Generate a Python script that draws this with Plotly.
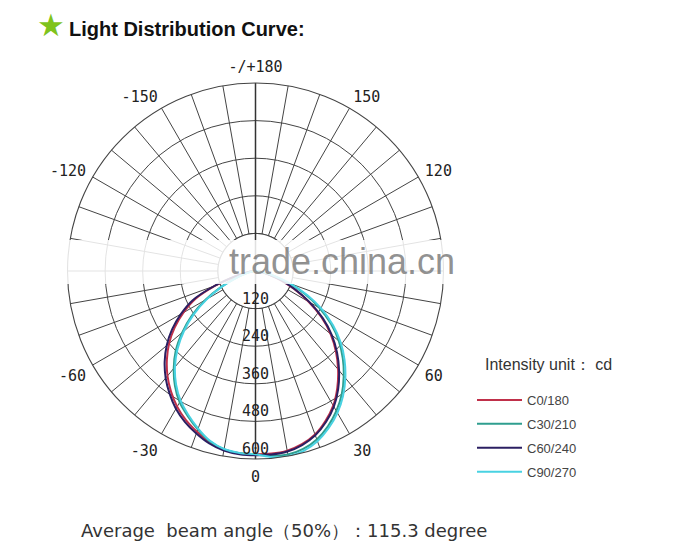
import plotly.graph_objects as go

W, H = 686, 551
OFF = 8  # page body margin in the browser

# ---------------- data ----------------
ANGLES = [0, 5, 10, 15, 20, 25, 30, 35, 40, 45, 50, 55, 60, 65, 70, 75, 80, 85, 90]

# intensity (cd), positive-angle half-plane and negative-angle half-plane
C0   = [585, 585, 582, 572, 555, 528, 496, 455, 410, 363, 313, 257, 195, 136, 85, 44, 19, 7, 0]
C180 = [585, 584, 578, 566, 546, 525, 500, 470, 437, 400, 360, 315, 265, 212, 135, 65, 28, 9, 0]
C30  = [588, 592, 595, 588, 572, 547, 516, 480, 438, 394, 347, 294, 236, 174, 112, 58, 24, 8, 0]
C210 = [586, 584, 578, 563, 538, 511, 484, 448, 406, 360, 305, 248, 184, 122, 70, 34, 15, 5, 0]
C60  = [588, 588, 585, 575, 558, 532, 500, 460, 415, 368, 318, 262, 200, 140, 88, 46, 20, 7, 0]
C240 = [588, 587, 582, 570, 552, 532, 508, 478, 446, 410, 370, 325, 275, 222, 140, 70, 30, 10, 0]
C90  = [590, 596, 600, 594, 578, 553, 523, 487, 446, 402, 355, 302, 245, 182, 120, 62, 26, 9, 0]
C270 = [585, 583, 577, 561, 535, 507, 478, 442, 400, 352, 298, 240, 178, 118, 68, 33, 14, 5, 0]

SERIES_NAMES = ["C0/180", "C30/210", "C60/240", "C90/270"]
SERIES_POS = [C0, C30, C60, C90]
SERIES_NEG = [C180, C210, C240, C270]
SERIES_COLORS = ["#c0304a", "#2f9e8f", "#2b1f62", "#48d2e2"]

RADIAL_TICKS = [120, 240, 360, 480, 600]
ANGLE_LABELS = {0: "0", 30: "30", 60: "60", 120: "120", 150: "150", 180: "-/+180",
                210: "-150", 240: "-120", 300: "-60", 330: "-30"}

TITLE = "Light Distribution Curve:"
UNIT_TEXT = "Intensity unit： cd"
FOOT_TEXT = "Average  beam angle（50%）：115.3 degree"
WATERMARK = "trade.china.cn"

# ---------------- helpers ----------------
def px(x):
    return (x - OFF) / W

def py(y):
    return 1 - (y - OFF) / H

GRID = "#444444"

fig = go.Figure()

# white inner disc (grid starts at the 120 circle)
disc_theta = list(range(0, 361, 3))
fig.add_trace(go.Scatterpolar(
    r=[RADIAL_TICKS[0]] * len(disc_theta), theta=disc_theta, mode="lines",
    fill="toself", fillcolor="white", line=dict(color=GRID, width=1.1),
    showlegend=False, hoverinfo="skip"))

# vertical 0 / 180 axis line through the centre
fig.add_trace(go.Scatterpolar(
    r=[RADIAL_TICKS[-1], 0, RADIAL_TICKS[-1]], theta=[180, 0, 0], mode="lines",
    line=dict(color="#333333", width=1.5), showlegend=False, hoverinfo="skip"))

# curves
for i, (name, pos, neg, col) in enumerate(zip(SERIES_NAMES, SERIES_POS, SERIES_NEG, SERIES_COLORS)):
    theta = [-a for a in ANGLES[::-1]] + ANGLES[1:]
    r = neg[::-1] + pos[1:]
    fig.add_trace(go.Scatterpolar(
        r=r, theta=theta, mode="lines", name=name, legendgroup=name,
        line=dict(color=col, width=2, shape="spline", smoothing=0.8), hoverinfo="skip"))

# radial value labels along the 0 direction
fig.add_trace(go.Scatterpolar(
    r=RADIAL_TICKS, theta=[0] * len(RADIAL_TICKS), mode="markers+text",
    text=[str(v) for v in RADIAL_TICKS], textposition="top center",
    marker=dict(size=0.5, opacity=0),
    textfont=dict(family="DejaVu Sans Mono", size=15, color="#222222"),
    showlegend=False, hoverinfo="skip"))

tickvals = list(range(0, 360, 10))
ticktext = [ANGLE_LABELS.get(v, "") for v in tickvals]

fig.update_layout(
    width=W, height=H,
    margin=dict(l=0, r=0, t=0, b=0),
    paper_bgcolor="white",
    showlegend=True,
    polar=dict(
        domain=dict(x=[px(67.5), px(443.5)], y=[py(459), py(83)]),
        bgcolor="white",
        radialaxis=dict(range=[0, 600], tickmode="array", tickvals=RADIAL_TICKS,
                        showticklabels=False, ticks="", showline=False,
                        gridcolor=GRID, gridwidth=1.1),
        angularaxis=dict(rotation=270, direction="counterclockwise",
                         tickmode="array", tickvals=tickvals, ticktext=ticktext,
                         ticks="outside", ticklen=4, tickcolor="rgba(0,0,0,0)",
                         showline=True, linecolor=GRID, linewidth=1.1,
                         gridcolor=GRID, gridwidth=1.1,
                         tickfont=dict(family="DejaVu Sans Mono", size=15, color="#222222")),
    ),
    legend=dict(x=px(472), y=py(385), xanchor="left", yanchor="top",
                bgcolor="rgba(0,0,0,0)", itemwidth=45, tracegroupgap=4,
                font=dict(family="Liberation Sans", size=13, color="#444444")),
)

# watermark band and text
fig.add_shape(type="rect", xref="paper", yref="paper",
              x0=px(64), x1=px(462), y0=py(284), y1=py(240),
              fillcolor="rgba(255,255,255,0.85)", line=dict(width=0), layer="above")

annotations = [
    dict(text="★", x=px(51), y=py(25), font=dict(family="DejaVu Sans", size=31, color="#7fc31c")),
    dict(text="<b>" + TITLE + "</b>", x=px(68), y=py(29), xanchor="left",
         font=dict(family="Liberation Sans", size=20, color="#111111")),
    dict(text=WATERMARK, x=px(228), y=py(261), xanchor="left",
         font=dict(family="Liberation Sans", size=36, color="rgba(110,110,110,0.75)")),
    dict(text=UNIT_TEXT, x=px(484), y=py(364), xanchor="left",
         font=dict(family="Liberation Sans", size=16, color="#333333")),
    dict(text=FOOT_TEXT, x=px(80), y=py(530), xanchor="left",
         font=dict(family="DejaVu Sans", size=18, color="#333333")),
]
for a in annotations:
    a.setdefault("xanchor", "center")
    fig.add_annotation(xref="paper", yref="paper", showarrow=False, yanchor="middle",
                       borderpad=0, **a)

fig.write_html("out.html")
